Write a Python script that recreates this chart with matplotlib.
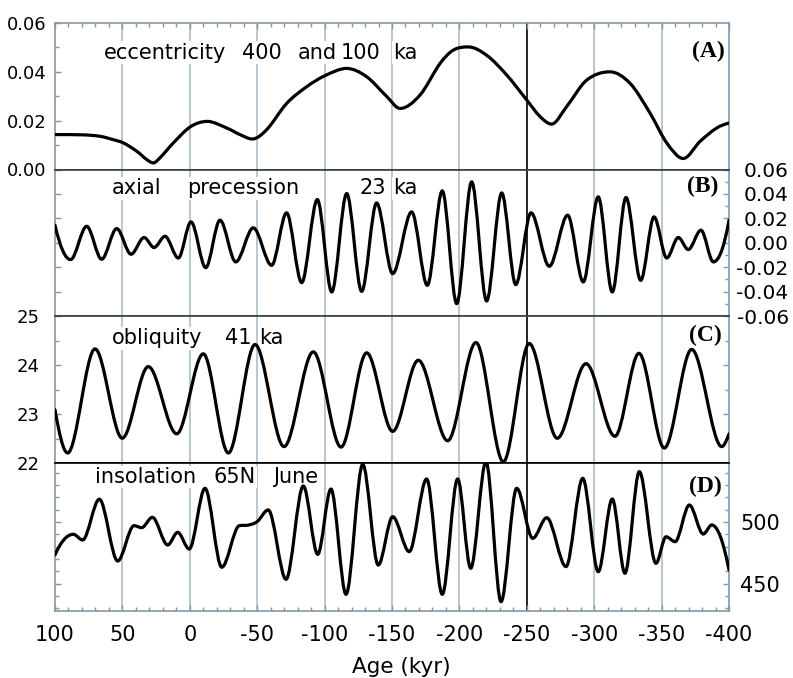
import numpy as np
import matplotlib
matplotlib.use("Agg")
import matplotlib.pyplot as plt
from matplotlib.path import Path
from matplotlib.patches import PathPatch
from matplotlib.ticker import MultipleLocator, FixedLocator, FormatStrFormatter

plt.rcParams['axes.unicode_minus'] = False
plt.rcParams['font.family'] = ['DejaVu Sans']

# ---------------- data ----------------
ecc_age = [100, 80, 66.6, 56.7, 49.3, 39.4, 32.0, 27.1, 22.1, 12.2, -0.7, -13.0, -27.4, -37.2,
           -46.4, -57.0, -71.9, -86.7, -99.8, -116.4, -131.2, -146.1, -156.0, -170.8, -185.6,
           -195.5, -206.6, -220.2, -235.1, -249.9, -259.8, -268.4, -279.6, -294.4, -311.7,
           -326.6, -341.4, -353.8, -366.1, -378.5, -390.9, -400]
ecc_val = [0.0143, 0.0142, 0.0136, 0.0122, 0.0109, 0.0075, 0.0041, 0.0027, 0.0048, 0.0109,
           0.0176, 0.0197, 0.0170, 0.0143, 0.0125, 0.0163, 0.0271, 0.0339, 0.0383, 0.0414,
           0.0380, 0.0299, 0.0250, 0.0305, 0.0434, 0.0489, 0.0502, 0.0468, 0.0387, 0.0285,
           0.0217, 0.0186, 0.0258, 0.0366, 0.0400, 0.0353, 0.0231, 0.0109, 0.0045, 0.0115,
           0.0170, 0.0190]

prec_age = [100, 88.4, 76.5, 65.4, 54.2, 43.6, 33.9, 26.5, 18.4, 8.5, -0.9, -11.8, -22.4, -34.1,
            -47.1, -60.7, -71.8, -83.0, -94.6, -105.3, -116.4, -127.5, -138.6, -150.5, -164.6,
            -176.2, -187.3, -198.0, -209.1, -220.2, -231.4, -241.8, -253.1, -266.7, -280.3,
            -291.9, -303.0, -313.4, -323.6, -334.5, -344.4, -353.8, -362.4, -369.8, -379.2,
            -388.4, -400]
prec_val = [0.0144, -0.0138, 0.0135, -0.0135, 0.0116, -0.0094, 0.0043, -0.0039, 0.0053, -0.0125,
            0.0171, -0.0204, 0.0185, -0.0157, 0.0122, -0.0185, 0.0245, -0.0327, 0.0354, -0.0403,
            0.0403, -0.0398, 0.0326, -0.0253, 0.0253, -0.0349, 0.0425, -0.0499, 0.0499, -0.0477,
            0.0408, -0.0343, 0.0245, -0.0193, 0.0226, -0.0321, 0.0376, -0.0403, 0.0371, -0.0308,
            0.0212, -0.0125, 0.0043, -0.0056, 0.0103, -0.0157, 0.0185]

obl_age = [100, 90.6, 70.3, 50.1, 30.8, 9.7, -10.0, -28.6, -48.4, -69.9, -91.6, -112.2, -131.2,
           -150.5, -169.5, -191.3, -212.3, -232.6, -251.8, -272.6, -293.9, -315.4, -333.2,
           -352.0, -372.3, -394.6, -400]
obl_val = [23.09, 22.21, 24.33, 22.51, 23.97, 22.60, 24.23, 22.21, 24.42, 22.34, 24.27, 22.33,
           24.25, 22.65, 24.10, 22.46, 24.46, 22.03, 24.44, 22.51, 24.03, 22.55, 24.24, 22.31,
           24.32, 22.34, 22.60]

ins_age = [100, 86.4, 79.5, 67.1, 53.5, 41.4, 35.7, 27.8, 16.4, 9.0, 0.4, -11.3, -23.7, -36.7,
           -43.4, -50.0, -58.2, -71.4, -84.2, -94.9, -104.7, -115.9, -128.3, -139.8, -150.5,
           -162.8, -175.7, -187.3, -198.7, -208.4, -219.7, -230.9, -242.5, -254.4, -264.8,
           -279.1, -291.5, -303.0, -313.4, -322.8, -333.5, -345.8, -353.3, -360.0, -370.6,
           -380.9, -387.2, -400]
ins_val = [473.2, 490.0, 485.4, 518.5, 468.3, 497.0, 495.4, 503.8, 481.3, 491.6, 478.0, 527.4,
           463.2, 497.0, 497.5, 500.3, 509.8, 453.4, 529.3, 473.7, 526.8, 441.2, 546.9, 465.0,
           504.3, 475.9, 535.0, 441.2, 535.0, 462.4, 549.0, 435.2, 527.4, 486.7, 503.5, 463.7,
           535.5, 459.6, 518.7, 458.3, 540.9, 466.4, 488.0, 484.0, 513.8, 490.2, 497.6, 461.0]

x_ticks = [100, 50, 0, -50, -100, -150, -200, -250, -300, -350, -400]
grid_ages = [50, 0, -50, -100, -150, -200, -300, -350]
mark_age = -250
ecc_ticks = [0.00, 0.02, 0.04, 0.06]
prec_ticks = [-0.06, -0.04, -0.02, 0.00, 0.02, 0.04, 0.06]
obl_ticks = [22, 23, 24, 25]
ins_ticks = [450, 500]

# ---------------- helpers ----------------
W, H = 793, 678
fig = plt.figure(figsize=(W / 100, H / 100), dpi=100)


def fx(x):
    return x / W


def fy(y):
    return 1 - y / H


def smooth_path(xs, ys):
    """Smooth cubic Bezier path through the read points (flat at extrema)."""
    x = np.asarray(xs, float)
    y = np.asarray(ys, float)
    o = np.argsort(x)
    x, y = x[o], y[o]
    h = np.diff(x)
    d = np.diff(y) / h
    n = len(x)
    m = np.zeros(n)
    for k in range(1, n - 1):
        if d[k - 1] * d[k] > 0:
            c = (y[k + 1] - y[k - 1]) / (x[k + 1] - x[k - 1])
            lim = 3 * min(abs(d[k - 1]), abs(d[k]))
            m[k] = np.sign(c) * min(abs(c), lim)

    def endslope(h0, h1, d0, d1):
        mm = ((2 * h0 + h1) * d0 - h0 * d1) / (h0 + h1)
        if np.sign(mm) != np.sign(d0):
            mm = 0.0
        elif np.sign(d0) != np.sign(d1) and abs(mm) > abs(3 * d0):
            mm = 3 * d0
        return mm

    m[0] = endslope(h[0], h[1], d[0], d[1])
    m[-1] = endslope(h[-1], h[-2], d[-1], d[-2])
    verts = [(x[0], y[0])]
    codes = [Path.MOVETO]
    for i in range(n - 1):
        verts += [(x[i] + h[i] / 3, y[i] + m[i] * h[i] / 3),
                  (x[i + 1] - h[i] / 3, y[i + 1] - m[i + 1] * h[i] / 3),
                  (x[i + 1], y[i + 1])]
        codes += [Path.CURVE4] * 3
    return Path(verts, codes)


frame_c = '#8497a6'
grid_c = '#a7b8c6'
sep_c = '#3a3f44'

L, R = 55, 729
bounds = [(23, 169.5), (169.5, 316), (316, 463.3), (463.3, 610.7)]
axes = []
for (t, b) in bounds:
    ax = fig.add_axes([fx(L), fy(b), (R - L) / W, (b - t) / H])
    ax.set_xlim(100, -400)
    for g in grid_ages:
        ax.axvline(g, color=grid_c, lw=1.1, zorder=1)
    ax.axvline(mark_age, color='black', lw=1.2, zorder=1.5)
    for s in ax.spines.values():
        s.set_color(frame_c)
        s.set_linewidth(1.2)
    ax.tick_params(which='both', direction='in', color=frame_c, width=1.0,
                   bottom=False, top=False, left=False, right=False,
                   labelbottom=False, labeltop=False, labelleft=False, labelright=False)
    ax.tick_params(which='major', length=4)
    ax.tick_params(which='minor', length=3)
    axes.append(ax)

axA, axB, axC, axD = axes
axB.spines['top'].set_color(sep_c)
axA.spines['bottom'].set_color(sep_c)
axC.spines['top'].set_color(sep_c)
axB.spines['bottom'].set_color(sep_c)
axD.spines['top'].set_color('black')
axC.spines['bottom'].set_color('black')

series = [(axA, ecc_age, ecc_val), (axB, prec_age, prec_val),
          (axC, obl_age, obl_val), (axD, ins_age, ins_val)]
for ax, a, v in series:
    p = PathPatch(smooth_path(a, v), facecolor='none', edgecolor='black', lw=2.3,
                  zorder=4, capstyle='round', joinstyle='round')
    ax.add_patch(p)

# Panel A
axA.set_ylim(0, 0.06)
axA.yaxis.set_major_locator(FixedLocator(ecc_ticks))
axA.yaxis.set_minor_locator(MultipleLocator(0.01))
axA.yaxis.set_major_formatter(FormatStrFormatter('%.2f'))
axA.xaxis.set_major_locator(FixedLocator(x_ticks))
axA.xaxis.set_minor_locator(MultipleLocator(10))
axA.tick_params(axis='y', which='both', left=True, labelleft=True, labelsize=13, pad=6)
axA.tick_params(axis='x', which='both', top=True)

# Panel B
axB.set_ylim(-0.06, 0.06)
axB.yaxis.set_major_locator(FixedLocator(prec_ticks))
axB.yaxis.set_minor_locator(MultipleLocator(0.01))
axB.yaxis.set_major_formatter(FormatStrFormatter('%.2f'))
axB.tick_params(axis='y', which='major', left=True, right=True, labelright=True,
                labelsize=14.5, pad=43)
axB.tick_params(axis='y', which='minor', right=True)
for tk in axB.yaxis.get_major_ticks():
    tk.label2.set_horizontalalignment('right')

# Panel C
axC.set_ylim(22, 25)
axC.yaxis.set_major_locator(FixedLocator(obl_ticks))
axC.yaxis.set_minor_locator(MultipleLocator(0.5))
axC.tick_params(axis='y', which='both', left=True, right=True, labelleft=True,
                labelsize=13, pad=11)

# Panel D
axD.set_ylim(427.9, 547.7)
axD.yaxis.set_major_locator(FixedLocator(ins_ticks))
axD.yaxis.set_minor_locator(MultipleLocator(10))
axD.tick_params(axis='y', which='both', left=True, right=True, labelright=True,
                labelsize=15, pad=8)
axD.xaxis.set_major_locator(FixedLocator(x_ticks))
axD.xaxis.set_minor_locator(MultipleLocator(10))
axD.xaxis.set_major_formatter(FormatStrFormatter('%d'))
axD.tick_params(axis='x', which='both', bottom=True, labelbottom=True, labelsize=15, pad=10)

# ---------------- annotations ----------------
box = dict(facecolor='white', edgecolor='none', pad=1.0)


def label(ax, x, y, s, **kw):
    ax.text(fx(x), fy(y), s, transform=fig.transFigure, ha='left', va='baseline',
            fontsize=15, zorder=3, bbox=box, **kw)


label(axA, 104.3, 58.7, 'eccentricity')
label(axA, 241.7, 58.7, '400')
label(axA, 297.7, 58.7, 'and')
label(axA, 341.0, 58.7, '100')
label(axA, 393.3, 58.7, 'ka')

label(axB, 111.7, 194.3, 'axial')
label(axB, 186.7, 194.3, 'precession')
label(axB, 359.3, 194.3, '23')
label(axB, 393.3, 194.3, 'ka')

label(axC, 111.7, 344.3, 'obliquity')
label(axC, 225.0, 344.3, '41')
label(axC, 259.0, 344.3, 'ka')

label(axD, 95.0, 483.0, 'insolation')
label(axD, 213.3, 483.0, '65N')
label(axD, 273.3, 483.0, 'June')

letters = [(axA, 725, 57.5, '(A)'), (axB, 718, 192, '(B)'),
           (axC, 722, 341, '(C)'), (axD, 722, 492, '(D)')]
for ax, x, y, s in letters:
    ax.text(fx(x), fy(y), s, transform=fig.transFigure, ha='right', va='baseline',
            fontsize=17, fontweight='bold', family='Liberation Serif', zorder=5)

fig.text(fx(401), fy(666.7), 'Age (kyr)', ha='center', va='center', fontsize=15.5)

fig.savefig('out.png', dpi=100)
